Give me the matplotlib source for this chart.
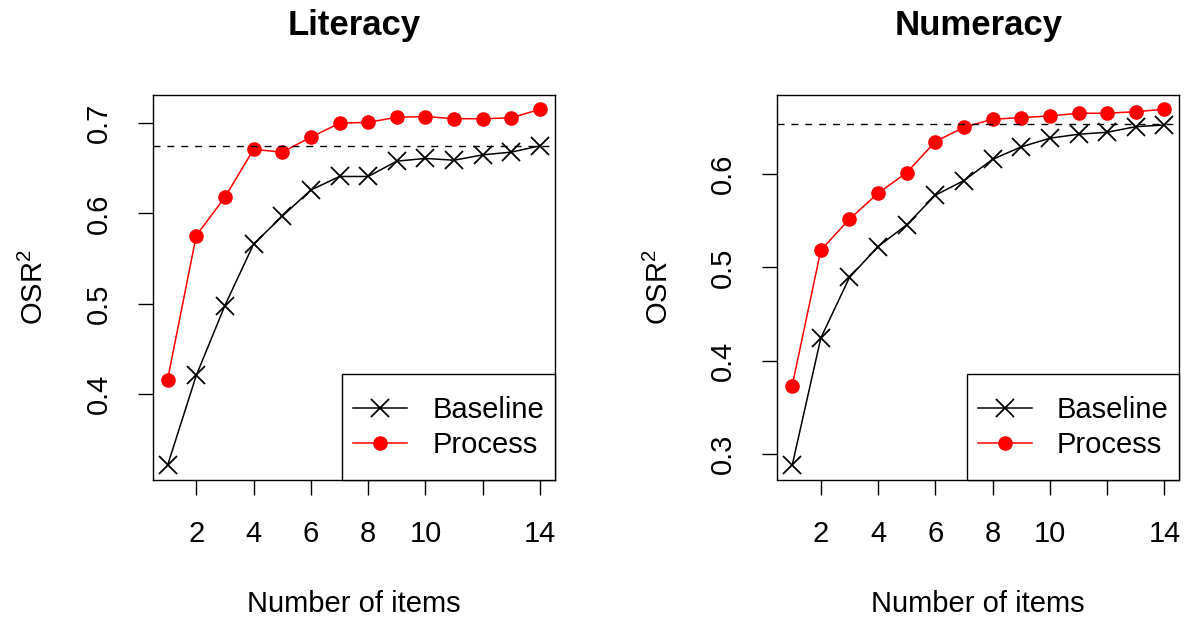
import matplotlib
matplotlib.use("Agg")
import matplotlib.pyplot as plt
from matplotlib.lines import Line2D
from matplotlib.legend_handler import HandlerLine2D
import numpy as np

plt.rcParams['font.family'] = ['Liberation Sans', 'DejaVu Sans']
plt.rcParams['mathtext.fontset'] = 'custom'
plt.rcParams['mathtext.rm'] = 'Liberation Sans'
plt.rcParams['mathtext.it'] = 'Liberation Sans:italic'
plt.rcParams['mathtext.bf'] = 'Liberation Sans:bold'

items = list(range(1, 15))
lit_baseline = [0.321, 0.4205, 0.498, 0.566, 0.597, 0.626, 0.641, 0.641, 0.658, 0.661,
                0.659, 0.665, 0.668, 0.675]
lit_process = [0.416, 0.5755, 0.618, 0.671, 0.668, 0.6845, 0.700, 0.701, 0.7066, 0.7074,
               0.705, 0.705, 0.706, 0.7155]
lit_ref = 0.675
num_baseline = [0.2877, 0.4242, 0.4892, 0.5224, 0.5457, 0.5775, 0.5932, 0.616, 0.6293, 0.6386,
                0.6429, 0.645, 0.651, 0.6528]
num_process = [0.373, 0.5185, 0.5518, 0.5796, 0.6017, 0.635, 0.6504, 0.659, 0.6607, 0.6625,
               0.6654, 0.6654, 0.6671, 0.6697]
num_ref = 0.6536

titles = ["Literacy", "Numeracy"]
x_ticks = [2, 4, 6, 8, 10, 12, 14]
x_ticklabels = ["2", "4", "6", "8", "10", "", "14"]
lit_yticks = [0.4, 0.5, 0.6, 0.7]
num_yticks = [0.3, 0.4, 0.5, 0.6]


class CenteredLineHandler(HandlerLine2D):
    """Line handler that lowers the sample so it sits on the text centre."""
    def __init__(self, shift=0.0, **kw):
        super().__init__(**kw)
        self.shift = shift

    def create_artists(self, legend, orig_handle, xdescent, ydescent, width, height,
                       fontsize, trans):
        arts = super().create_artists(legend, orig_handle, xdescent, ydescent, width,
                                      height, fontsize, trans)
        for a in arts:
            a.set_ydata(np.asarray(a.get_ydata(), dtype=float) - self.shift * fontsize)
        return arts


W, H = 1187, 626
fig = plt.figure(figsize=(W / 100, H / 100), dpi=100)

panels = [
    (152.7, 555.0, lit_baseline, lit_process, lit_ref, lit_yticks, titles[0]),
    (777.3, 1179.3, num_baseline, num_process, num_ref, num_yticks, titles[1]),
]
top_px, bot_px = 95.0, 479.5
FS = 21
HH = 2.2

for left_px, right_px, base, proc, ref, yt, title in panels:
    ax = fig.add_axes([left_px / W, 1 - bot_px / H, (right_px - left_px) / W,
                       (bot_px - top_px) / H])
    ax.plot(items, base, color='black', lw=1.1, marker='x', ms=13, mew=1.3,
            label='Baseline')
    ax.plot(items, proc, color='red', lw=1.1, marker='o', ms=9.5,
            label='Process')
    ax.axhline(ref, color='black', lw=1.0, ls=(0, (5, 5)))

    allv = np.array(base + proc)
    lo, hi = allv.min(), allv.max()
    d = (hi - lo) * 0.04
    ax.set_ylim(lo - d, hi + d)
    ax.set_xlim(1 - 13 * 0.04, 14 + 13 * 0.04)

    ax.set_xticks(x_ticks)
    ax.set_xticklabels(x_ticklabels)
    ax.set_yticks(yt)
    ax.set_yticklabels([f"{v:.1f}" for v in yt], rotation=90, va='center')
    ax.tick_params(axis='both', direction='out', length=11, width=1,
                   labelsize=FS, pad=18, colors='black')
    for sp in ax.spines.values():
        sp.set_linewidth(1.0)
        sp.set_color('black')

    ax.set_xlabel("Number of items", fontsize=FS)
    ax.xaxis.label.set_va('center')
    ax.xaxis.set_label_coords(0.5, (bot_px - 604) / (bot_px - top_px))
    ax.set_ylabel(r"OSR$^{2}$", fontsize=FS)
    ax.yaxis.label.set_va('center')
    ax.yaxis.set_label_coords(-118 / (right_px - left_px), 0.5)

    ax.set_title(title, fontsize=25, fontweight='bold', y=1 + 70 / (bot_px - top_px),
                 va='center', pad=0)

    hmap = {Line2D: CenteredLineHandler(shift=0.24)}
    leg = ax.legend(loc='lower right', fontsize=FS, frameon=True, fancybox=False,
                    edgecolor='black', framealpha=1, borderaxespad=0,
                    handlelength=1.85, handleheight=HH, handletextpad=0.85,
                    labelspacing=-0.48, borderpad=0.38, handler_map=hmap)
    leg.get_frame().set_linewidth(1.0)

fig.savefig("out.png", dpi=100)
